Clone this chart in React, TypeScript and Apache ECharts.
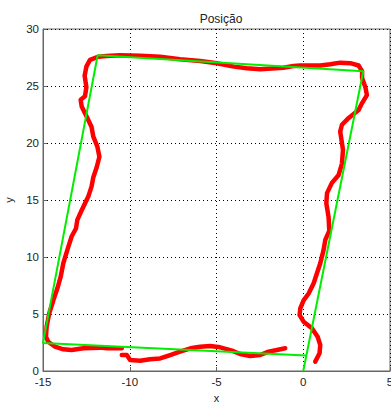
import React, { useEffect, useRef } from "react";
import * as echarts from "echarts";

const xTicks = [-15, -10, -5, 0, 5];
const yTicks = [0, 5, 10, 15, 20, 25, 30];

// Red measured track: bottom part (start), then the rest after a data gap
const trackBottom: [number, number][] = [
  [-10.46, 1.4], [-10.17, 1.4], [-9.98, 0.96], [-9.4, 0.9], [-8.83, 1.03], [-8.25, 1.1],
  [-7.67, 1.4], [-7.1, 1.7], [-6.5, 1.99], [-5.94, 2.13], [-5.37, 2.19], [-4.79, 2.08],
  [-4.11, 1.78], [-3.64, 1.49], [-3.06, 1.32], [-2.48, 1.4], [-2.0, 1.7], [-1.52, 1.84],
  [-1.04, 1.99],
];
const trackRight: [number, number][] = [
  [0.69, 0.82], [0.94, 1.55], [0.98, 2.28], [0.83, 3.0], [0.5, 3.74], [0.02, 4.33],
  [-0.21, 4.9], [-0.17, 5.5], [0.02, 6.2], [0.31, 6.8], [0.6, 7.7], [0.79, 8.57],
  [0.98, 9.45], [1.17, 10.6], [1.27, 11.5], [1.5, 12.3], [1.46, 13.5], [1.33, 14.7],
  [1.37, 15.6], [1.65, 16.5], [2.04, 17.2], [2.23, 18.2], [2.29, 19.4], [2.23, 20.0],
  [2.13, 21.0], [2.23, 21.6], [2.62, 22.2], [3.19, 22.9], [3.39, 23.5], [3.67, 24.2],
  [3.58, 24.9], [3.39, 25.7], [3.39, 26.3], [3.19, 26.8],
];
const trackTop: [number, number][] = [
  [2.71, 27.0], [2.13, 27.05], [1.56, 26.9], [0.98, 26.8], [0.4, 26.8], [-0.17, 26.8],
  [-0.56, 26.75], [-1.15, 26.6], [-2.48, 26.46], [-3.25, 26.55], [-4.0, 26.7], [-4.98, 27.0],
  [-5.94, 27.2], [-7.1, 27.34], [-8.25, 27.57], [-9.4, 27.66], [-10.56, 27.7], [-11.33, 27.63],
  [-11.8, 27.57], [-12.29, 27.3],
];
const trackLeft: [number, number][] = [
  [-12.5, 26.7], [-12.6, 25.9], [-12.5, 24.9], [-12.58, 24.1], [-12.83, 23.8], [-12.77, 23.2],
  [-12.48, 22.3], [-12.2, 21.4], [-12.1, 20.55], [-11.87, 19.7], [-11.75, 18.8], [-11.9, 17.9],
  [-12.1, 17.0], [-12.2, 16.2], [-12.39, 15.3], [-12.77, 14.1], [-13.02, 13.25], [-13.1, 12.5],
  [-13.35, 11.8], [-13.6, 10.6], [-13.83, 9.45], [-13.98, 8.27], [-14.17, 7.25], [-14.4, 6.23],
  [-14.64, 5.06], [-14.79, 3.89], [-14.83, 3.0], [-14.7, 2.57], [-14.31, 2.13], [-13.83, 1.9],
  [-13.35, 1.84], [-12.68, 1.99], [-11.7, 2.05], [-11.33, 2.0], [-10.46, 2.0],
];

// Green reference path
const refPath: [number, number][] = [
  [0, 0], [3.46, 26.3], [-11.85, 27.7], [-15, 2.45], [0.15, 1.35],
];

const FONT = "'Liberation Sans', Arial, sans-serif";

export default function App() {
  const ref = useRef<HTMLDivElement>(null);
  useEffect(() => {
    if (!ref.current) return;
    const chart = echarts.init(ref.current, undefined, { renderer: "svg" });
    const redStyle = { color: "#ff0000", width: 4.5, cap: "round", join: "round" };
    chart.setOption({
      animation: false,
      backgroundColor: "#ffffff",
      title: {
        text: "Posição",
        left: 216,
        top: 8,
        textAlign: "center",
        textStyle: { fontFamily: FONT, fontSize: 12, fontWeight: "normal", color: "#222" },
      },
      grid: {
        left: 43,
        right: 1,
        top: 29,
        bottom: 32,
        containLabel: false,
        outerBoundsMode: "none",
        show: true,
        borderColor: "#666",
        borderWidth: 1,
        backgroundColor: "#fff",
      },
      xAxis: {
        type: "value",
        min: xTicks[0],
        max: xTicks[xTicks.length - 1],
        interval: 5,
        name: "x",
        nameLocation: "middle",
        nameGap: 18,
        nameTextStyle: { fontFamily: FONT, fontSize: 11, color: "#222" },
        axisLine: { show: true, onZero: false, lineStyle: { color: "#666", width: 1 } },
        axisTick: { show: true, inside: true, length: 4, lineStyle: { color: "#666" } },
        axisLabel: { fontFamily: FONT, fontSize: 11.5, color: "#222", margin: 5 },
        splitLine: { show: true, lineStyle: { color: "#000", type: [1, 3], width: 1 } },
      },
      yAxis: {
        type: "value",
        min: yTicks[0],
        max: yTicks[yTicks.length - 1],
        interval: 5,
        name: "y",
        nameLocation: "middle",
        nameGap: 29,
        nameTextStyle: { fontFamily: FONT, fontSize: 11, color: "#222" },
        axisLine: { show: true, onZero: false, lineStyle: { color: "#666", width: 1 } },
        axisTick: { show: true, inside: true, length: 4, lineStyle: { color: "#666" } },
        axisLabel: { fontFamily: FONT, fontSize: 11.5, color: "#222", margin: 4 },
        splitLine: { show: true, lineStyle: { color: "#000", type: [1, 3], width: 1 } },
      },
      series: [
        {
          type: "line",
          data: trackBottom,
          showSymbol: false,
          symbol: "none",
          lineStyle: redStyle,
          silent: true,
        },
        {
          type: "line",
          data: [...trackRight, ...trackTop, ...trackLeft],
          showSymbol: false,
          symbol: "none",
          lineStyle: redStyle,
          silent: true,
        },
        {
          type: "line",
          data: refPath,
          showSymbol: false,
          symbol: "none",
          lineStyle: { color: "#00ee00", width: 2 },
          silent: true,
        },
      ],
    });
    return () => chart.dispose();
  }, []);
  return (
    <div
      ref={ref}
      style={{ position: "fixed", left: 0, top: 0, width: 391, height: 403 }}
    />
  );
}
